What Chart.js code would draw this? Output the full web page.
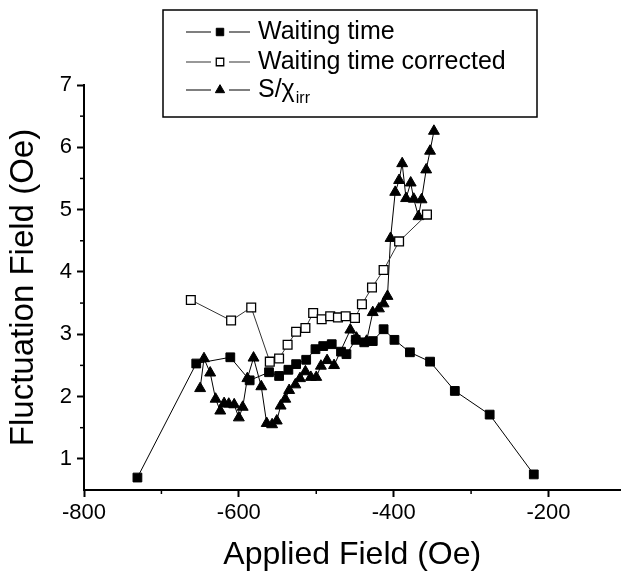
<!DOCTYPE html>
<html><head><meta charset="utf-8">
<script src="https://cdn.jsdelivr.net/npm/chart.js@4"></script>
<style>html,body{margin:0;padding:0;background:#fff}#wrap{position:relative;width:628px;height:575px}</style>
</head><body><div id="wrap"><canvas id="c" width="628" height="575"></canvas></div>
<script>
const waitX = [-731,-655,-611,-586,-561,-548,-536,-526,-513,-501,-491,-480,-468,-461,-449,-438,-427,-413,-399,-379,-353,-321,-276,-219];
const waitY = [0.70,2.53,2.63,2.26,2.39,2.33,2.43,2.52,2.59,2.76,2.81,2.84,2.72,2.68,2.91,2.87,2.89,3.08,2.91,2.71,2.56,2.09,1.71,0.75];

const corrX = [-662,-610,-584,-560,-548,-537,-526,-514,-504,-493,-482,-472,-462,-450,-441,-428,-413,-393,-357];
const corrY = [3.55,3.22,3.43,2.56,2.61,2.83,3.04,3.10,3.34,3.24,3.29,3.27,3.29,3.26,3.48,3.75,4.03,4.49,4.92];

const sX = [-650,-645,-637,-630,-624,-619,-613,-606,-600,-595,-589,-581,-571,-564,-557,-551,-546,-540,-535,-527,-521,-514,-507,-500,-494,-486,-477,-456,-448,-435,-427,-419,-413,-408,-404,-398,-393,-389,-384,-378,-374,-368,-364,-358,-353,-348];
const sY = [2.13,2.61,2.38,1.96,1.77,1.89,1.88,1.87,1.66,1.83,2.29,2.62,2.16,1.57,1.55,1.61,1.85,1.96,2.10,2.19,2.29,2.40,2.31,2.31,2.49,2.58,2.50,3.07,2.94,2.89,3.35,3.41,3.49,3.61,4.54,5.28,5.47,5.74,5.18,5.43,5.17,4.89,5.16,5.64,5.94,6.26];

const xMajor = [-800,-600,-400,-200];
const xMinor = [-700,-500,-300];
const yMajor = [1,2,3,4,5,6,7];
const yMinor = [1.5,2.5,3.5,4.5,5.5,6.5];

const seriesNames = ['Waiting time','Waiting time corrected','S/\u03C7'];
const seriesSub = ['','','irr'];

const FONT = '"Liberation Sans", Arial, Helvetica, sans-serif';
const pts = (xs, ys) => xs.map((x, i) => ({x, y: ys[i]}));

const minorTicks = {
  id: 'minorTicks',
  afterDraw(chart) {
    const {ctx, scales: {x, y}} = chart;
    ctx.save();
    ctx.strokeStyle = '#000';
    ctx.lineWidth = 1.5;
    xMinor.forEach(v => {
      const px = x.getPixelForValue(v);
      ctx.beginPath(); ctx.moveTo(px, x.top); ctx.lineTo(px, x.top + 4); ctx.stroke();
    });
    yMinor.forEach(v => {
      const py = y.getPixelForValue(v);
      ctx.beginPath(); ctx.moveTo(y.right, py); ctx.lineTo(y.right - 4, py); ctx.stroke();
    });
    ctx.restore();
  }
};

const legendBox = {
  id: 'legendBox',
  afterDraw(chart) {
    const ctx = chart.ctx;
    const bx = 163, by = 10, bw = 374, bh = 107;
    ctx.save();
    ctx.fillStyle = '#fff';
    ctx.fillRect(bx, by, bw, bh);
    ctx.strokeStyle = '#000';
    ctx.lineWidth = 1.5;
    ctx.strokeRect(bx, by, bw, bh);
    const rows = [32, 62, 90];
    chart.data.datasets.forEach((ds, i) => {
      const cy = rows[i];
      ctx.strokeStyle = ds.borderColor;
      ctx.lineWidth = 1.2;
      ctx.beginPath();
      ctx.moveTo(186, cy); ctx.lineTo(211, cy);
      ctx.moveTo(229, cy); ctx.lineTo(250, cy);
      ctx.stroke();
      ctx.fillStyle = ds.pointBackgroundColor;
      ctx.strokeStyle = ds.pointBorderColor;
      ctx.lineWidth = ds.pointBorderWidth;
      Chart.helpers.drawPoint(ctx, {pointStyle: ds.pointStyle, radius: ds.pointRadius * 0.85, borderWidth: ds.pointBorderWidth}, 220, cy);
      ctx.fillStyle = '#000';
      ctx.font = '25px ' + FONT;
      ctx.textBaseline = 'middle';
      ctx.textAlign = 'left';
      ctx.fillText(seriesNames[i], 258, cy);
      if (seriesSub[i]) {
        const w = ctx.measureText(seriesNames[i]).width;
        ctx.font = '16px ' + FONT;
        ctx.fillText(seriesSub[i], 258 + w + 1, cy + 9);
      }
    });
    ctx.restore();
  }
};

new Chart(document.getElementById('c'), {
  type: 'scatter',
  data: {
    datasets: [
      {label: seriesNames[0], data: pts(waitX, waitY), showLine: true,
       borderColor: '#000', borderWidth: 1, pointStyle: 'rect', pointRadius: 6.2,
       pointBackgroundColor: '#000', pointBorderColor: '#000', pointBorderWidth: 1},
      {label: seriesNames[1], data: pts(corrX, corrY), showLine: true,
       borderColor: '#333', borderWidth: 1, pointStyle: 'rect', pointRadius: 6.2,
       pointBackgroundColor: '#fff', pointBorderColor: '#000', pointBorderWidth: 1.3},
      {label: seriesNames[2] + seriesSub[2], data: pts(sX, sY), showLine: true,
       borderColor: '#000', borderWidth: 1, pointStyle: 'triangle', pointRadius: 6.3,
       pointBackgroundColor: '#000', pointBorderColor: '#000', pointBorderWidth: 1}
    ]
  },
  options: {
    responsive: false, animation: false, devicePixelRatio: 1,
    layout: {padding: {top: 85, right: 0, left: 0, bottom: 0}},
    plugins: {legend: {display: false}, tooltip: {enabled: false}},
    scales: {
      x: {
        type: 'linear', min: -800, max: -107,
        afterBuildTicks: s => { s.ticks = xMajor.map(v => ({value: v})); },
        afterFit: s => { s.height = 85; },
        border: {color: '#000', width: 2},
        grid: {drawOnChartArea: false, drawTicks: true, tickLength: 7, tickColor: '#000', tickWidth: 2},
        ticks: {font: {size: 22, family: FONT}, color: '#000', padding: 3, maxRotation: 0, autoSkip: false},
        title: {display: true, text: 'Applied Field (Oe)', color: '#000', font: {size: 32, family: FONT}, padding: {top: 0, bottom: 1}}
      },
      y: {
        type: 'linear', min: 0.5, max: 7,
        afterBuildTicks: s => { s.ticks = yMajor.map(v => ({value: v})); },
        afterFit: s => { s.width = 84; },
        border: {color: '#000', width: 2},
        grid: {drawOnChartArea: false, drawTicks: true, tickLength: 7, tickColor: '#000', tickWidth: 2},
        ticks: {font: {size: 22, family: FONT}, color: '#000', padding: 5, autoSkip: false},
        title: {display: true, text: 'Fluctuation Field (Oe)', color: '#000', font: {size: 33, family: FONT}, padding: {top: 4, bottom: 0}}
      }
    }
  },
  plugins: [minorTicks, legendBox]
});
</script></body></html>
